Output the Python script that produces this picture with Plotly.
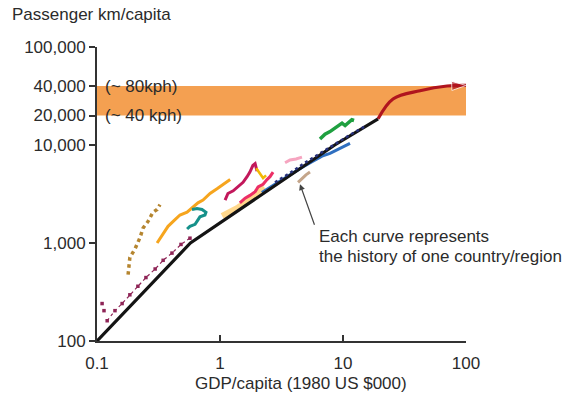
import math
import plotly.graph_objects as go

# ---------------- data ----------------
x_tickvals = [0.1, 1, 10, 100]
x_ticktext = ["0.1", "1", "10", "100"]
y_tickvals = [100, 1000, 10000, 20000, 40000, 100000]
y_ticktext = ["100", "1,000", "10,000", "20,000", "40,000", "100,000"]

band_gdp = [0.1, 100]
band_pkm = [20000, 40000]
band_labels = ["(~ 80kph)", "(~ 40 kph)"]

trend_gdp = [0.1, 0.575, 8.57, 19.3]
trend_pkm = [100, 1000, 10000, 18500]
future_gdp = [19.3, 25.5, 42.3, 70.2, 100]
future_pkm = [18500, 29500, 35800, 40000, 40500]

maroon_gdp = [0.121, 0.140, 0.160, 0.185, 0.215, 0.250, 0.297, 0.345, 0.407, 0.482, 0.570]
maroon_pkm = [161, 204, 241, 296, 362, 444, 543, 666, 789, 967, 1120]
maroon_early_gdp = [0.110, 0.114]
maroon_early_pkm = [241, 204]

brown_gdp = [0.179, 0.185, 0.204, 0.224, 0.237, 0.260, 0.285, 0.308, 0.325]
brown_pkm = [475, 713, 873, 1140, 1420, 1660, 2060, 2200, 2460]

orange_gdp = [0.308, 0.337, 0.378, 0.431, 0.473, 0.540, 0.603, 0.662, 0.728, 0.830, 0.946, 1.06, 1.21]
orange_pkm = [1000, 1190, 1480, 1730, 1930, 2060, 2300, 2570, 2740, 3200, 3570, 3980, 4440]

teal_gdp = [0.540, 0.570, 0.627, 0.662, 0.687, 0.755, 0.769, 0.714, 0.650, 0.592]
teal_pkm = [1390, 1480, 1550, 1730, 1850, 1930, 2060, 2200, 2250, 2200]

magenta_gdp = [1.10, 1.16, 1.28, 1.40, 1.54, 1.66, 1.75, 1.85, 1.93, 2.0]
magenta_pkm = [2740, 3200, 3410, 3730, 4160, 4750, 5290, 6170, 6450, 5410]

crimson_gdp = [1.45, 1.60, 1.75, 1.93, 2.04, 2.24, 2.41, 2.55, 2.70]
crimson_pkm = [2570, 2870, 3060, 3340, 3730, 3980, 4440, 4750, 5290]

paleyellow_gdp = [1.04, 1.21, 1.40, 1.60, 1.82, 2.04, 2.28]
paleyellow_pkm = [1890, 2060, 2300, 2570, 2990, 3340, 3730]

gold_gdp = [1.97, 2.10, 2.24, 2.37]
gold_pkm = [5800, 5100, 4600, 4900]

lightpink_gdp = [3.38, 3.71, 4.15, 4.64]
lightpink_pkm = [6590, 7040, 7200, 7520]

tan_gdp = [4.31, 4.64, 5.00, 5.39]
tan_pkm = [4160, 4540, 4960, 5290]

blue_gdp = [2.19, 2.65, 3.19, 3.85, 4.64, 5.60, 6.75, 7.84, 9.10, 10.2, 11.4]
blue_pkm = [3270, 3810, 4440, 5070, 5910, 6740, 7690, 8210, 8960, 9570, 10400]

navy_gdp = [2.80, 3.71, 4.91, 6.50, 8.61, 11.4, 15.1]
navy_pkm = [4160, 5180, 6590, 8210, 10400, 12700, 15500]

green_gdp = [6.50, 7.14, 7.84, 8.61, 9.10, 9.82, 10.4, 11.0, 11.8, 12.3]
green_pkm = [11500, 12900, 13700, 14900, 15800, 16700, 15800, 16700, 18100, 17800]

note_gdp = 4.47
note_pkm = 3980
note_lines = ["Each curve represents", "the history of one country/region"]

x_title = "GDP/capita (1980 US $000)"
y_title = "Passenger km/capita"

# ---------------- figure ----------------
FONT = "Liberation Sans, Arial, sans-serif"
TXT = "#2b2b2b"

fig = go.Figure()

# orange speed band
fig.add_trace(go.Scatter(
    x=[band_gdp[0], band_gdp[1], band_gdp[1], band_gdp[0], band_gdp[0]],
    y=[band_pkm[0], band_pkm[0], band_pkm[1], band_pkm[1], band_pkm[0]],
    fill="toself", fillcolor="rgba(243,150,62,0.9)", mode="lines",
    line=dict(width=0), hoverinfo="skip", showlegend=False))

def curve(x, y, color, width=3, dash="solid", opacity=1.0):
    fig.add_trace(go.Scatter(x=x, y=y, mode="lines", opacity=opacity,
                             line=dict(color=color, width=width, dash=dash),
                             showlegend=False))

curve(paleyellow_gdp, paleyellow_pkm, "#FFD27A", width=6, opacity=0.85)
fig.add_trace(go.Scatter(x=maroon_gdp, y=maroon_pkm, mode="lines+markers",
                         line=dict(color="#8E2456", width=1.2, dash="dot"),
                         marker=dict(color="#8E2456", size=3.5, symbol="square"),
                         showlegend=False))
fig.add_trace(go.Scatter(x=maroon_early_gdp, y=maroon_early_pkm, mode="markers",
                         marker=dict(color="#8E2456", size=3.5, symbol="square"),
                         showlegend=False))
curve(brown_gdp, brown_pkm, "#B5852F", width=3.5, dash="dot")
curve(orange_gdp, orange_pkm, "#F6A51E", width=3)
curve(teal_gdp, teal_pkm, "#16918A", width=3)
curve(magenta_gdp, magenta_pkm, "#C2185B", width=3)
curve(crimson_gdp, crimson_pkm, "#EC2F66", width=3)
curve(gold_gdp, gold_pkm, "#F2B705", width=2.5)
curve(lightpink_gdp, lightpink_pkm, "#F6A5C0", width=3)
curve(tan_gdp, tan_pkm, "#C4A58A", width=3)
curve(blue_gdp, blue_pkm, "#2F6FC0", width=3)
curve(trend_gdp, trend_pkm, "#141414", width=3.2)
curve(navy_gdp, navy_pkm, "#27307A", width=2.5, dash="dot")
curve(green_gdp, green_pkm, "#1FA040", width=3.5)

# red future path with arrow head
n = len(future_gdp)
fig.add_trace(go.Scatter(
    x=future_gdp, y=future_pkm, mode="lines+markers",
    line=dict(color="#B0151E", width=3.2, shape="spline"),
    marker=dict(color="#B0151E", symbol=["circle"] * (n - 1) + ["arrow"],
                size=[0] * (n - 1) + [15], angleref="previous"),
    cliponaxis=False, showlegend=False))

annotations = []
# band labels
for lab, val in zip(band_labels, [band_pkm[1], band_pkm[0]]):
    annotations.append(dict(text=lab, xref="paper", yref="y", x=0.016,
                            y=math.log10(val), xanchor="left", yanchor="middle",
                            showarrow=False, font=dict(family=FONT, size=17, color=TXT)))
# note arrow
annotations.append(dict(text="", x=math.log10(note_gdp), y=math.log10(note_pkm),
                        xref="x", yref="y", showarrow=True, ax=15, ay=42,
                        arrowhead=2, arrowsize=1, arrowwidth=1.2, arrowcolor="#444"))
# note text
for line_txt, yp in zip(note_lines, [0.354, 0.289]):
    annotations.append(dict(text=line_txt, xref="paper", yref="paper", x=0.596, y=yp,
                            xanchor="left", yanchor="middle", showarrow=False,
                            font=dict(family=FONT, size=17, color=TXT)))
# axis titles
annotations.append(dict(text=y_title, xref="paper", yref="paper", x=-0.236, y=1.11,
                        xanchor="left", yanchor="middle", showarrow=False,
                        font=dict(family=FONT, size=17, color=TXT)))
annotations.append(dict(text=x_title, xref="paper", yref="paper", x=0.553, y=-0.143,
                        xanchor="center", yanchor="middle", showarrow=False,
                        font=dict(family=FONT, size=17, color=TXT)))

fig.update_layout(
    width=587, height=394,
    margin=dict(l=97, r=121, t=47, b=53, pad=0, autoexpand=False),
    paper_bgcolor="white", plot_bgcolor="white",
    showlegend=False,
    annotations=annotations,
    font=dict(family=FONT, size=17, color=TXT),
)
fig.update_xaxes(type="log", range=[-1, 2], tickvals=x_tickvals, ticktext=x_ticktext,
                 ticks="inside", ticklen=6, tickwidth=1.5, tickcolor="#333",
                 showline=True, linecolor="#333", linewidth=2, showgrid=False,
                 zeroline=False, ticklabelstandoff=6, automargin=False,
                 tickfont=dict(family=FONT, size=17, color=TXT))
fig.update_yaxes(type="log", range=[2, 5], tickvals=y_tickvals, ticktext=y_ticktext,
                 ticks="outside", ticklen=6, tickwidth=1.5, tickcolor="#333",
                 showline=True, linecolor="#333", linewidth=2, showgrid=False,
                 zeroline=False, automargin=False,
                 tickfont=dict(family=FONT, size=17, color=TXT))

fig.write_html("out.html",
               config={"displayModeBar": False},
               post_script="document.body.style.margin='0px';"
                           "document.body.style.overflow='hidden';")
